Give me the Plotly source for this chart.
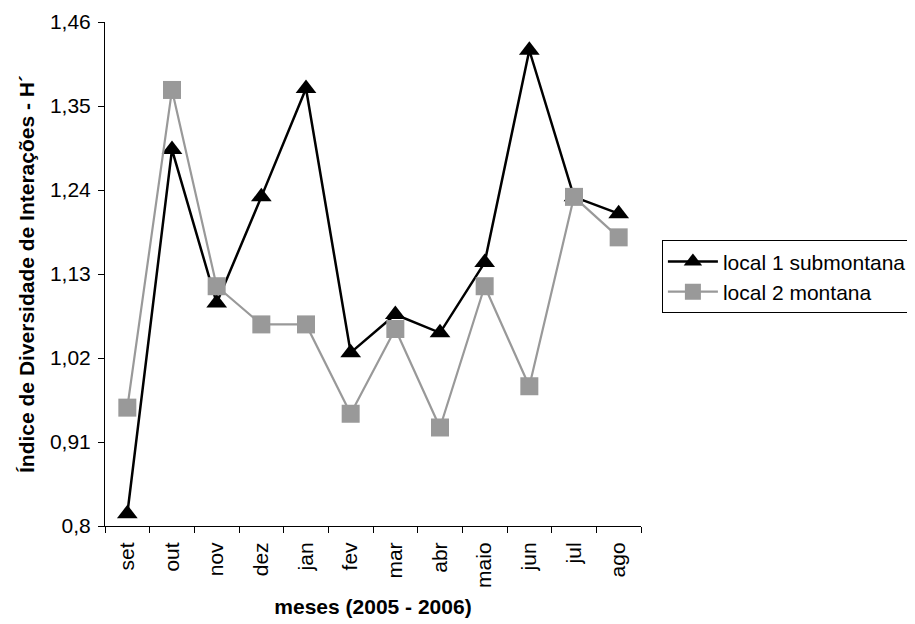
import plotly.graph_objects as go

months = ["set", "out", "nov", "dez", "jan", "fev", "mar", "abr", "maio", "jun", "jul", "ago"]
local1_submontana = [0.816, 1.293, 1.092, 1.231, 1.373, 1.027, 1.077, 1.053, 1.145, 1.423, 1.231, 1.209]
local2_montana = [0.955, 1.371, 1.114, 1.064, 1.064, 0.947, 1.058, 0.929, 1.114, 0.983, 1.231, 1.178]
y_tickvals = [0.8, 0.91, 1.02, 1.13, 1.24, 1.35, 1.46]
y_ticktext = ["0,8", "0,91", "1,02", "1,13", "1,24", "1,35", "1,46"]

FONT = "Liberation Sans, Arial, sans-serif"

fig = go.Figure()
fig.add_trace(go.Scatter(
    x=months, y=local1_submontana, name="local 1 submontana",
    mode="lines+markers",
    line=dict(color="black", width=2.5),
    marker=dict(symbol="triangle-up", size=18, color="black"),
))
fig.add_trace(go.Scatter(
    x=months, y=local2_montana, name="local 2 montana",
    mode="lines+markers",
    line=dict(color="#999999", width=2.2),
    marker=dict(symbol="square", size=18, color="#999999"),
))

fig.update_layout(
    width=915, height=624,
    paper_bgcolor="white", plot_bgcolor="white",
    margin=dict(l=97, r=282, t=14, b=106, autoexpand=False),
    font=dict(family=FONT, size=21, color="black"),
    showlegend=True,
    legend=dict(
        x=1.039, y=0.567, xanchor="left", yanchor="top",
        bordercolor="black", borderwidth=1, bgcolor="white",
        font=dict(family=FONT, size=21, color="black"),
        itemwidth=50,
        tracegroupgap=0,
    ),
)
fig.update_xaxes(
    type="category", range=[-0.5, 11.5], automargin=False,
    showline=True, linecolor="black", linewidth=1,
    ticks="outside", ticklen=6, tickcolor="black", tickwidth=1,
    tickson="boundaries", tickangle=-90, ticklabelstandoff=7,
    showgrid=False, zeroline=False,
    tickfont=dict(family=FONT, size=21, color="black"),
    title=dict(text="meses (2005 - 2006)", standoff=12,
               font=dict(family=FONT, size=21, color="black", weight="bold")),
)
fig.update_yaxes(
    range=[0.8, 1.46], automargin=False,
    tickvals=y_tickvals, ticktext=y_ticktext,
    showline=True, linecolor="black", linewidth=1,
    ticks="outside", ticklen=6, tickcolor="black", tickwidth=1,
    ticklabelstandoff=3,
    showgrid=False, zeroline=False,
    tickfont=dict(family=FONT, size=21, color="black"),
    title=dict(text="Índice de Diversidade de Interações - H´", standoff=9,
               font=dict(family=FONT, size=21, color="black", weight="bold")),
)

fig.write_html("out.html")
